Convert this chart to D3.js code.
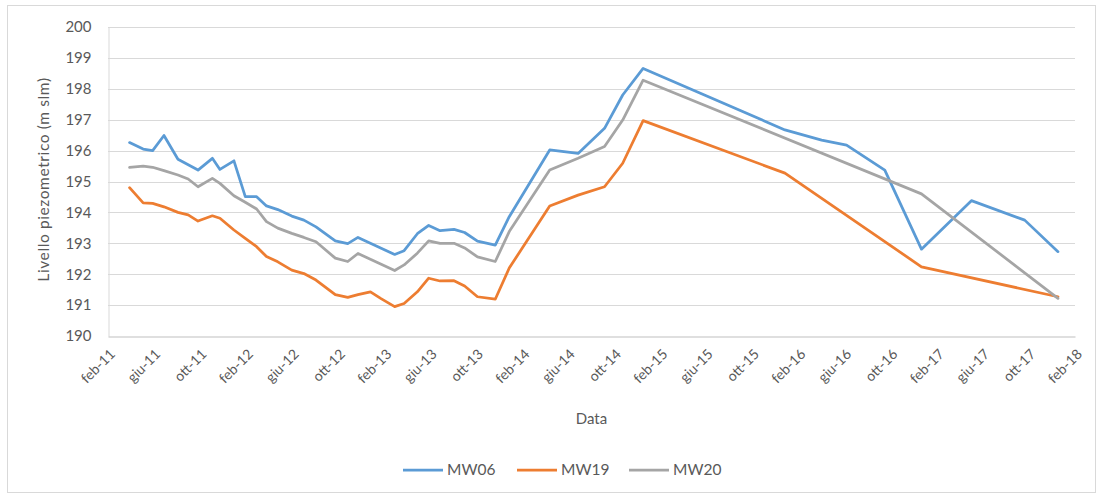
<!DOCTYPE html>
<html>
<head>
<meta charset="utf-8">
<script src="https://cdn.jsdelivr.net/npm/d3@7"></script>
<style>
  html, body { margin: 0; padding: 0; background: #ffffff; }
  svg { display: block; font-family: Lato, "Open Sans", sans-serif; }
</style>
</head>
<body>
<svg id="chart" width="1103" height="497"></svg>
<script>
// ---- data ----
const dates = [
  "2011-03-30","2011-05-05","2011-05-30","2011-06-29","2011-08-05","2011-09-01","2011-09-27",
  "2011-11-04","2011-11-24","2011-12-31","2012-01-30","2012-02-29","2012-03-26","2012-04-25",
  "2012-06-01","2012-07-03","2012-08-04","2012-09-24","2012-10-27","2012-11-23","2012-12-26",
  "2013-01-23","2013-02-28","2013-03-25","2013-04-29","2013-05-29","2013-06-28","2013-08-04",
  "2013-09-01","2013-10-05","2013-11-21","2013-12-28","2014-04-14","2014-06-28","2014-09-06",
  "2014-10-24","2014-12-17","2015-12-27","2016-04-02","2016-06-07","2016-09-16","2016-12-22",
  "2017-05-03","2017-09-21","2017-12-18"
];
const mw06 = [
  196.26,196.05,196.00,196.49,195.72,null,195.37,
  195.75,195.39,195.67,194.51,194.51,194.21,194.09,
  193.88,193.75,193.53,193.08,192.99,193.19,null,
  null,192.64,192.76,193.31,193.58,193.41,193.45,
  193.35,193.07,192.94,193.86,196.02,195.91,196.72,
  197.80,198.66,196.67,196.34,196.18,195.37,192.81,
  194.38,193.75,192.73
];
const mw19 = [
  194.80,194.31,194.29,194.18,194.00,193.92,193.72,
  193.89,193.81,193.43,193.16,192.89,192.57,192.40,
  192.13,192.02,191.81,191.34,191.25,191.34,191.43,
  191.21,190.95,191.05,191.43,191.87,191.78,191.79,
  191.62,191.27,191.19,192.20,194.21,194.56,194.83,
  195.59,196.97,195.27,null,null,null,192.24,
  null,null,191.27
];
const mw20 = [
  195.46,195.50,195.46,195.35,195.21,195.08,194.83,
  195.10,194.94,194.54,194.33,194.11,193.70,193.49,
  193.32,193.19,193.05,192.52,192.41,192.67,null,
  null,192.12,192.30,192.68,193.08,193.00,193.00,
  192.85,192.56,192.41,193.38,195.37,195.75,196.13,
  196.99,198.28,null,null,null,null,194.60,
  null,null,191.22
];
const seriesNames = ["MW06","MW19","MW20"];
const seriesColors = ["#5b9bd5","#ed7d31","#a5a5a5"];
const tickDates = [
  "2011-02-01","2011-06-01","2011-10-01","2012-02-01","2012-06-01","2012-10-01",
  "2013-02-01","2013-06-01","2013-10-01","2014-02-01","2014-06-01","2014-10-01",
  "2015-02-01","2015-06-01","2015-10-01","2016-02-01","2016-06-01","2016-10-01",
  "2017-02-01","2017-06-01","2017-10-01","2018-02-01"
];
const tickLabels = [
  "feb-11","giu-11","ott-11","feb-12","giu-12","ott-12",
  "feb-13","giu-13","ott-13","feb-14","giu-14","ott-14",
  "feb-15","giu-15","ott-15","feb-16","giu-16","ott-16",
  "feb-17","giu-17","ott-17","feb-18"
];
const yTicks = [190,191,192,193,194,195,196,197,198,199,200];

// ---- layout ----
const W = 1103, H = 497;
const m = { left: 108, right: 28, top: 27, bottom: 161 };
const svg = d3.select("#chart");
const parse = d3.utcParse("%Y-%m-%d");

// chart border
svg.append("rect").attr("x", 7.5).attr("y", 5.5).attr("width", W - 15).attr("height", H - 10)
  .attr("fill", "#fff").attr("stroke", "#d9d9d9").attr("stroke-width", 1);

const x = d3.scaleUtc()
  .domain([parse(tickDates[0]), parse(tickDates[tickDates.length - 1])])
  .range([m.left, W - m.right]);
const y = d3.scaleLinear().domain([190, 200]).range([H - m.bottom, m.top]);

// gridlines
svg.append("g").selectAll("line").data(yTicks.filter(d => d !== 190)).join("line")
  .attr("x1", m.left).attr("x2", W - m.right)
  .attr("y1", d => Math.round(y(d)) + 0.5).attr("y2", d => Math.round(y(d)) + 0.5)
  .attr("stroke", "#d9d9d9").attr("stroke-width", 1);

// y axis
const yAxis = svg.append("g").attr("transform", `translate(${m.left + 0.5},0)`)
  .call(d3.axisLeft(y).tickValues(yTicks).tickSize(0).tickPadding(17).tickFormat(d3.format("d")));
yAxis.select(".domain").attr("stroke", "#d9d9d9");
yAxis.selectAll("text").attr("fill", "#595959").style("font-size", "15px")
  .style("font-family", "Lato, sans-serif");

// x axis
const xAxis = svg.append("g").attr("transform", `translate(0,${Math.round(y(190)) + 0.5})`)
  .call(d3.axisBottom(x).tickValues(tickDates.map(parse)).tickSize(0)
    .tickFormat((d, i) => tickLabels[i]));
xAxis.select(".domain").attr("stroke", "#bfbfbf");
xAxis.selectAll("text")
  .attr("fill", "#595959").style("font-size", "14px").style("font-family", "Lato, sans-serif")
  .attr("text-anchor", "end")
  .attr("dy", "0.35em")
  .attr("transform", "translate(4,15) rotate(-45)")
  .attr("y", 0).attr("x", 0);

// lines
const line = d3.line().x(d => x(d.date)).y(d => y(d.value));
[mw06, mw19, mw20].forEach((vals, i) => {
  const pts = dates.map((d, k) => ({ date: parse(d), value: vals[k] })).filter(p => p.value !== null);
  svg.append("path").datum(pts)
    .attr("fill", "none").attr("stroke", seriesColors[i]).attr("stroke-width", 2.75)
    .attr("stroke-linejoin", "round").attr("stroke-linecap", "round")
    .attr("d", line);
});

// axis titles
svg.append("text").attr("transform", `translate(49,${(y(190) + y(200)) / 2 - 2}) rotate(-90)`)
  .attr("text-anchor", "middle").attr("fill", "#595959").style("font-size", "15.5px")
  .style("letter-spacing", "0.6px")
  .text("Livello piezometrico  (m slm)");
svg.append("text").attr("x", (m.left + W - m.right) / 2).attr("y", 424)
  .attr("text-anchor", "middle").attr("fill", "#595959").style("font-size", "15px")
  .text("Data");

// legend
const legendX = [403, 517, 629];
const lg = svg.append("g");
seriesNames.forEach((n, i) => {
  lg.append("line").attr("x1", legendX[i]).attr("x2", legendX[i] + 40)
    .attr("y1", 470).attr("y2", 470).attr("stroke", seriesColors[i]).attr("stroke-width", 2.75);
  lg.append("text").attr("x", legendX[i] + 44).attr("y", 470).attr("dy", "0.35em")
    .attr("fill", "#595959").style("font-size", "15.5px").text(n);
});
</script>
</body>
</html>
